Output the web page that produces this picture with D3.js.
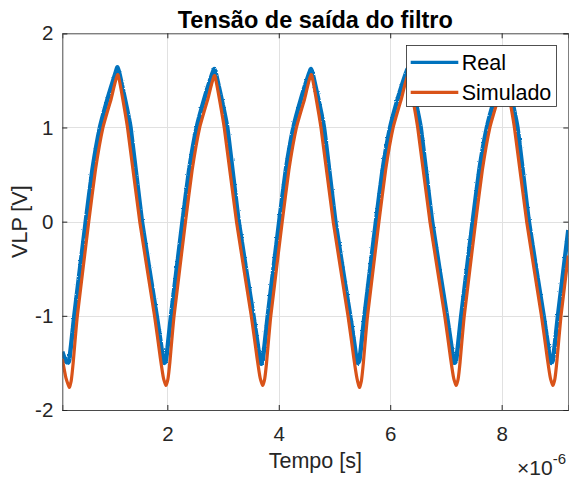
<!DOCTYPE html>
<html>
<head>
<meta charset="utf-8">
<script src="https://cdn.jsdelivr.net/npm/d3@7"></script>
<style>
    body { margin: 0; background: #fff; }
    svg { display: block; font-family: "Liberation Sans", Arial, sans-serif; }
</style>
</head>
<body>
<svg class="chart" width="569" height="478"></svg>
<script>

// valores (tempo em us, tensao em V)

const tempo_real = [
    0.115, 0.15, 0.18,
    0.21, 0.24, 0.275, 0.33, 0.535, 0.655, 0.79, 0.94, 1.07, 1.105,
    1.145, 1.34, 1.545, 1.81, 1.885, 1.915, 1.946,
    1.976, 2.011, 2.066, 2.271, 2.391, 2.526, 2.676, 2.806, 2.841,
    2.881, 3.076, 3.281, 3.546, 3.621, 3.651, 3.682,
    3.712, 3.747, 3.802, 4.007, 4.127, 4.262, 4.412, 4.542, 4.577,
    4.617, 4.812, 5.017, 5.282, 5.357, 5.387, 5.418,
    5.448, 5.483, 5.538, 5.743, 5.863, 5.998, 6.148, 6.278, 6.313,
    6.353, 6.548, 6.753, 7.018, 7.093, 7.123, 7.154,
    7.184, 7.219, 7.274, 7.479, 7.599, 7.734, 7.884, 8.014, 8.049,
    8.089, 8.284, 8.489, 8.754, 8.829, 8.859, 8.89,
    8.92, 8.955, 9.01, 9.196
];

const vlp_real = [
    -1.38, -1.44, -1.48,
    -1.50, -1.47, -1.30, -1.0, 0, 0.55, 1.0, 1.33, 1.58, 1.64,
    1.56, 1.0, 0, -1.0, -1.30, -1.43, -1.50,
    -1.47, -1.30, -1.0, 0, 0.55, 1.0, 1.33, 1.57, 1.62,
    1.55, 1.0, 0, -1.0, -1.30, -1.43, -1.51,
    -1.47, -1.30, -1.0, 0, 0.55, 1.0, 1.33, 1.57, 1.62,
    1.55, 1.0, 0, -1.0, -1.30, -1.43, -1.50,
    -1.47, -1.30, -1.0, 0, 0.55, 1.0, 1.33, 1.57, 1.62,
    1.55, 1.0, 0, -1.0, -1.30, -1.43, -1.50,
    -1.47, -1.30, -1.0, 0, 0.55, 1.0, 1.33, 1.57, 1.62,
    1.55, 1.0, 0, -1.0, -1.30, -1.43, -1.50,
    -1.47, -1.30, -1.0, -0.09
];

const tempo_simulado = [
    0.115, 0.18, 0.24,
    0.275, 0.31, 0.385, 0.59, 0.71, 0.845, 0.99, 1.115,
    1.285, 1.505, 1.77, 1.875, 1.93, 1.976,
    2.011, 2.046, 2.121, 2.326, 2.446, 2.581, 2.726, 2.851,
    3.021, 3.241, 3.506, 3.611, 3.666, 3.712,
    3.747, 3.782, 3.857, 4.062, 4.182, 4.317, 4.462, 4.587,
    4.757, 4.977, 5.242, 5.347, 5.402, 5.448,
    5.483, 5.518, 5.593, 5.798, 5.918, 6.053, 6.198, 6.323,
    6.493, 6.713, 6.978, 7.083, 7.138, 7.184,
    7.219, 7.254, 7.329, 7.534, 7.654, 7.789, 7.934, 8.059,
    8.229, 8.449, 8.714, 8.819, 8.874, 8.92,
    8.955, 8.99, 9.065, 9.196
];

const vlp_simulado = [
    -1.46, -1.66, -1.76,
    -1.69, -1.50, -1.0, 0, 0.55, 1.0, 1.30, 1.56,
    1.0, 0, -1.0, -1.45, -1.66, -1.74,
    -1.67, -1.49, -1.0, 0, 0.55, 1.0, 1.30, 1.55,
    1.0, 0, -1.0, -1.45, -1.66, -1.74,
    -1.67, -1.49, -1.0, 0, 0.55, 1.0, 1.30, 1.56,
    1.0, 0, -1.0, -1.45, -1.66, -1.76,
    -1.69, -1.50, -1.0, 0, 0.55, 1.0, 1.30, 1.55,
    1.0, 0, -1.0, -1.45, -1.66, -1.74,
    -1.67, -1.49, -1.0, 0, 0.55, 1.0, 1.30, 1.55,
    1.0, 0, -1.0, -1.45, -1.66, -1.74,
    -1.67, -1.49, -1.0, -0.36
];

const series_names = ['Real', 'Simulado'];
const series_colors = ['#0072bd', '#d95319'];

const ticks_x = [2, 4, 6, 8];
const ticks_y = [-2, -1, 0, 1, 2];

const dominio_x = [0.115, 9.196];
const dominio_y = [-2, 2];


const main = {};

main.w = 569;
main.h = 478;

main.box = { left: 62.3, right: 568.3, top: 33.3, bottom: 410 };

main.svg = d3.select('svg.chart');

main.x = d3.scaleLinear()
    .domain(dominio_x)
    .range([main.box.left, main.box.right]);

main.y = d3.scaleLinear()
    .domain(dominio_y)
    .range([main.box.bottom, main.box.top]);

const x = main.x;
const y = main.y;
const svg = main.svg;

const defs = svg.append('defs');

defs.append('clipPath')
    .attr('id', 'clip-plot')
    .append('rect')
    .attr('x', main.box.left)
    .attr('y', main.box.top)
    .attr('width', main.box.right - main.box.left)
    .attr('height', main.box.bottom - main.box.top);

// ruido do sinal real (so efeito visual)
const filtro = defs.append('filter')
    .attr('id', 'ruido')
    .attr('filterUnits', 'userSpaceOnUse')
    .attr('x', 0).attr('y', 0)
    .attr('width', main.w).attr('height', main.h);

filtro.append('feTurbulence')
    .attr('type', 'fractalNoise')
    .attr('baseFrequency', 0.7)
    .attr('numOctaves', 1)
    .attr('seed', 4)
    .attr('result', 'n');

filtro.append('feDisplacementMap')
    .attr('in', 'SourceGraphic')
    .attr('in2', 'n')
    .attr('scale', 2.4)
    .attr('xChannelSelector', 'R')
    .attr('yChannelSelector', 'G');

// grade
const grade = svg.append('g').attr('class', 'grade')
    .attr('stroke', '#e1e1e1')
    .attr('stroke-width', 1);

grade.selectAll('line.gx')
    .data(ticks_x)
    .join('line')
    .attr('x1', d => Math.round(x(d)) + 0.5)
    .attr('x2', d => Math.round(x(d)) + 0.5)
    .attr('y1', main.box.top)
    .attr('y2', main.box.bottom);

grade.selectAll('line.gy')
    .data(ticks_y.slice(1, -1))
    .join('line')
    .attr('y1', d => Math.round(y(d)) + 0.5)
    .attr('y2', d => Math.round(y(d)) + 0.5)
    .attr('x1', main.box.left)
    .attr('x2', main.box.right);

// curvas
const linha = (tempos, valores) => d3.line()
    .x((d, i) => x(tempos[i]))
    .y((d, i) => y(valores[i]))
    .curve(d3.curveCardinal.tension(0.6))(valores);

const curvas = svg.append('g').attr('clip-path', 'url(#clip-plot)');

curvas.append('path')
    .attr('d', linha(tempo_real, vlp_real))
    .attr('fill', 'none')
    .attr('stroke', series_colors[0])
    .attr('stroke-width', 4.4)
    .attr('stroke-linejoin', 'round')
    .attr('filter', 'url(#ruido)');

curvas.append('path')
    .attr('d', linha(tempo_simulado, vlp_simulado))
    .attr('fill', 'none')
    .attr('stroke', series_colors[1])
    .attr('stroke-width', 3.2)
    .attr('stroke-linejoin', 'round');

// eixos
const fs_tick = 20.5;
const fmt = d => String(d);

svg.append('g')
    .attr('transform', `translate(0,${main.box.bottom})`)
    .call(d3.axisBottom(x).tickValues(ticks_x).tickSize(-5).tickPadding(16.5).tickFormat(fmt));

svg.append('g')
    .attr('transform', `translate(${main.box.left},0)`)
    .call(d3.axisLeft(y).tickValues(ticks_y).tickSize(-5).tickPadding(9).tickFormat(fmt));

svg.append('g')
    .attr('transform', `translate(0,${main.box.top})`)
    .call(d3.axisTop(x).tickValues(ticks_x).tickSize(-5).tickFormat(''));

svg.append('g')
    .attr('transform', `translate(${main.box.right},0)`)
    .call(d3.axisRight(y).tickValues(ticks_y).tickSize(-5).tickFormat(''));

svg.selectAll('.domain').attr('stroke', '#4a4a4a');
svg.selectAll('.tick line').attr('stroke', '#262626');
svg.selectAll('.tick text')
    .attr('fill', '#262626')
    .style('font-size', fs_tick + 'px')
    .style('font-family', '"Liberation Sans", Arial, sans-serif');

// titulo e rotulos
svg.append('text')
    .attr('x', (main.box.left + main.box.right) / 2)
    .attr('y', 27.5)
    .attr('text-anchor', 'middle')
    .attr('font-weight', 'bold')
    .attr('font-size', 23.5)
    .attr('fill', '#000')
    .text('Tensão de saída do filtro');

svg.append('text')
    .attr('x', (main.box.left + main.box.right) / 2)
    .attr('y', 468)
    .attr('text-anchor', 'middle')
    .attr('font-size', 21.5)
    .attr('fill', '#262626')
    .text('Tempo [s]');

svg.append('text')
    .attr('transform', `translate(26.5,${(main.box.top + main.box.bottom) / 2}) rotate(-90)`)
    .attr('text-anchor', 'middle')
    .attr('font-size', 21.5)
    .attr('fill', '#262626')
    .text('VLP [V]');

const expoente = svg.append('text')
    .attr('x', 566)
    .attr('y', 475)
    .attr('text-anchor', 'end')
    .attr('font-size', 21)
    .attr('fill', '#262626');

expoente.append('tspan').text('×10');
expoente.append('tspan')
    .attr('dy', -11)
    .attr('font-size', 15)
    .text('-6');

// legenda
const leg = svg.append('g').attr('class', 'legenda');

leg.append('rect')
    .attr('x', 406.5)
    .attr('y', 45.5)
    .attr('width', 150)
    .attr('height', 61)
    .attr('fill', '#fff')
    .attr('stroke', '#262626')
    .attr('stroke-width', 0.8);

const itens = leg.selectAll('g.item')
    .data(series_names)
    .join('g')
    .attr('class', 'item')
    .attr('transform', (d, i) => `translate(0,${62.3 + i * 30})`);

itens.append('line')
    .attr('x1', 410.7)
    .attr('x2', 458.3)
    .attr('stroke', (d, i) => series_colors[i])
    .attr('stroke-width', 3.2);

itens.append('text')
    .attr('x', 461.7)
    .attr('y', 7.6)
    .attr('font-size', 21.5)
    .attr('fill', '#000')
    .text(d => d);

</script>
</body>
</html>
